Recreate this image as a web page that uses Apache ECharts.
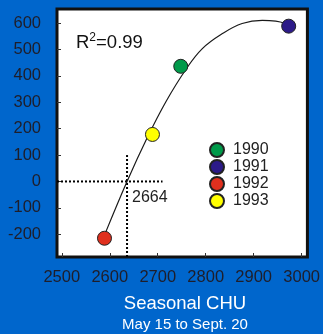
<!DOCTYPE html>
<html>
<head>
<meta charset="utf-8">
<script src="https://cdn.jsdelivr.net/npm/echarts@6/dist/echarts.min.js"></script>
<style>
html,body{margin:0;padding:0;background:#0066cc;}
#c{width:323px;height:334px;}
</style>
</head>
<body>
<div id="c"></div>
<script>
// Data
var years = ['1990', '1991', '1992', '1993'];
var yearColors = ['#009a4a', '#2c1a88', '#e0301e', '#ffff00'];
var chuValues = [2748, 2973, 2589, 2689];
var yieldValues = [436, 588, -215, 178];
var curveX = [2592, 2636, 2679, 2717, 2759, 2793, 2835, 2876, 2918, 2946, 2967];
var curveY = [-190, 0, 169, 302, 425, 503, 560, 598, 610, 607, 598];
var xTicks = [2500, 2600, 2700, 2800, 2900, 3000];
var yTicks = [-200, -100, 0, 100, 200, 300, 400, 500, 600];
var crossX = 2636;          // where the dotted guide meets the curve
var crossLabel = '2664';
var vGuideTop = 100;
var hGuideRight = 2710;
var xMin = 2490, xMax = 3012, yMin = -286, yMax = 653;
var r2Text = '0.99';
var xTitle = 'Seasonal CHU';
var xSubTitle = 'May 15 to Sept. 20';

var FONT = 'Liberation Sans, Arial, sans-serif';
var chart = echarts.init(document.getElementById('c'));

var series = [];
series.push({
  type: 'line', name: 'fit', smooth: 0.4, showSymbol: false, silent: true,
  data: curveX.map(function (x, i) { return [x, curveY[i]]; }),
  lineStyle: { color: '#1a1a1a', width: 1.2 }, z: 2
});
series.push({
  type: 'line', name: 'vguide', showSymbol: false, silent: true,
  data: [[crossX, yMin], [crossX, vGuideTop]],
  lineStyle: { color: '#000', width: 2, type: [2, 2] }, z: 1
});
series.push({
  type: 'line', name: 'hguide', showSymbol: false, silent: true,
  data: [[xMin, 0], [hGuideRight, 0]],
  lineStyle: { color: '#000', width: 2, type: [2, 2] }, z: 1
});
years.forEach(function (y, i) {
  series.push({
    type: 'scatter', name: y, symbol: 'circle', symbolSize: 14,
    data: [[chuValues[i], yieldValues[i]]],
    itemStyle: { color: yearColors[i], borderColor: '#222', borderWidth: 1, opacity: 1 },
    z: 5
  });
});

function plain(v) { return String(v); }

chart.setOption({
  backgroundColor: '#0066cc',
  animation: false,
  textStyle: { fontFamily: FONT },
  grid: {
    left: 57, top: 9, width: 251, height: 248, show: true,
    backgroundColor: '#ffffff', borderColor: '#111', borderWidth: 3
  },
  xAxis: {
    type: 'value', min: xMin, max: xMax,
    axisLine: { show: false, onZero: false },
    splitLine: { show: false },
    axisTick: { show: true, inside: true, length: 4, customValues: xTicks, lineStyle: { color: '#333' } },
    axisLabel: { customValues: xTicks, formatter: plain, color: '#1e1e2a', fontSize: 16.5, margin: 12, fontFamily: FONT }
  },
  yAxis: {
    type: 'value', min: yMin, max: yMax,
    axisLine: { show: false, onZero: false },
    splitLine: { show: false },
    axisTick: { show: true, inside: true, length: 4, customValues: yTicks, lineStyle: { color: '#333' } },
    axisLabel: { customValues: yTicks, formatter: plain, color: '#1e1e2a', fontSize: 16.5, margin: 16, fontFamily: FONT }
  },
  legend: {
    data: years, orient: 'vertical', left: 204, top: 137,
    itemWidth: 14, itemHeight: 14, itemGap: 1, icon: 'circle',
    textStyle: { color: '#222', fontSize: 16, lineHeight: 16, fontFamily: FONT, padding: [0, 0, 0, 4] },
    selectedMode: false
  },
  graphic: [
    { type: 'text', x: 76, y: 42, z: 10,
      style: { text: '{r|R}{s|2}{r|=' + r2Text + '}', fill: '#111', verticalAlign: 'middle',
        rich: { r: { fontSize: 18.5, fontFamily: FONT, fill: '#111', verticalAlign: 'bottom' },
                s: { fontSize: 12, fontFamily: FONT, fill: '#111', verticalAlign: 'top', padding: [0, 0, 8, 0] } } } },
    { type: 'text', x: 132, y: 198, z: 10,
      style: { text: crossLabel, fill: '#222', fontSize: 16, fontFamily: FONT, verticalAlign: 'middle' } },
    { type: 'text', x: 185, y: 304, z: 10,
      style: { text: xTitle, fill: '#ffffff', fontSize: 18.5, fontFamily: FONT, align: 'center', verticalAlign: 'middle' } },
    { type: 'text', x: 185, y: 325, z: 10,
      style: { text: xSubTitle, fill: '#ffffff', fontSize: 15, fontFamily: FONT, align: 'center', verticalAlign: 'middle' } }
  ],
  series: series
});
</script>
</body>
</html>
